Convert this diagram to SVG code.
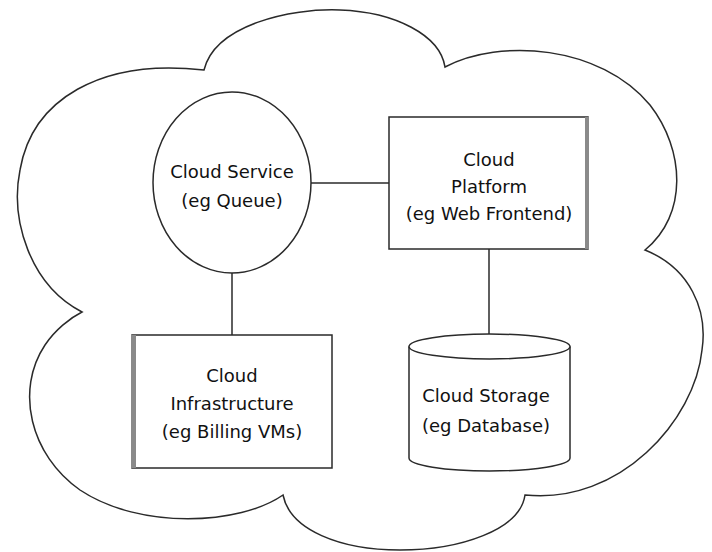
<svg xmlns="http://www.w3.org/2000/svg" width="712" height="552" viewBox="0 0 712 552">
<style>
.ln{fill:none;stroke:#2a2a2a;stroke-width:1.5}
.nd{fill:#fff;stroke:#2a2a2a;stroke-width:1.5}
.sh{fill:#8a8a8a}
.tx{font-family:"DejaVu Sans",Verdana,sans-serif;font-size:18px;fill:#111;text-anchor:middle}
</style>
<rect width="712" height="552" fill="#fff"/>
<g id="cloud">
<path class="ln" d="M204,70 C215,25 290,8 340,10 C395,12 440,35 445,67 C500,38 600,45 650,105 C685,150 688,215 645,250 C690,268 708,310 702,350 C695,420 620,505 525,495 C520,530 460,550 400,550 C340,550 290,530 283,495 C240,525 140,530 80,490 C30,455 15,390 45,345 C55,330 70,318 82,312 C30,285 10,220 20,170 C32,100 100,58 204,70 Z"/>
</g>
<g id="connectors">
<line class="ln" x1="311" y1="183" x2="389" y2="183"/>
<line class="ln" x1="232" y1="273" x2="232" y2="335"/>
<line class="ln" x1="489" y1="249" x2="489" y2="334"/>
</g>
<g id="service">
<ellipse class="nd" cx="232" cy="182.5" rx="79" ry="90.5"/>
<text class="tx" x="232" y="178">Cloud Service</text>
<text class="tx" x="232" y="207">(eg Queue)</text>
</g>
<g id="platform">
<rect class="nd" x="389" y="117" width="199" height="132"/>
<rect class="sh" x="585" y="117" width="4" height="132"/>
<text class="tx" x="489" y="166">Cloud</text>
<text class="tx" x="489" y="193">Platform</text>
<text class="tx" x="489" y="220">(eg Web Frontend)</text>
</g>
<g id="infrastructure">
<rect class="nd" x="132" y="335" width="200" height="133"/>
<rect class="sh" x="131" y="335" width="5" height="133"/>
<text class="tx" x="232" y="382">Cloud</text>
<text class="tx" x="232" y="410">Infrastructure</text>
<text class="tx" x="232" y="438">(eg Billing VMs)</text>
</g>
<g id="storage">
<path class="nd" d="M409,346.5 L409,458 A80.5,13 0 0 0 570,458 L570,346.5"/>
<ellipse class="nd" cx="489.5" cy="346.5" rx="80.5" ry="12.5"/>
<text class="tx" x="486" y="402">Cloud Storage</text>
<text class="tx" x="486" y="432">(eg Database)</text>
</g>
</svg>
